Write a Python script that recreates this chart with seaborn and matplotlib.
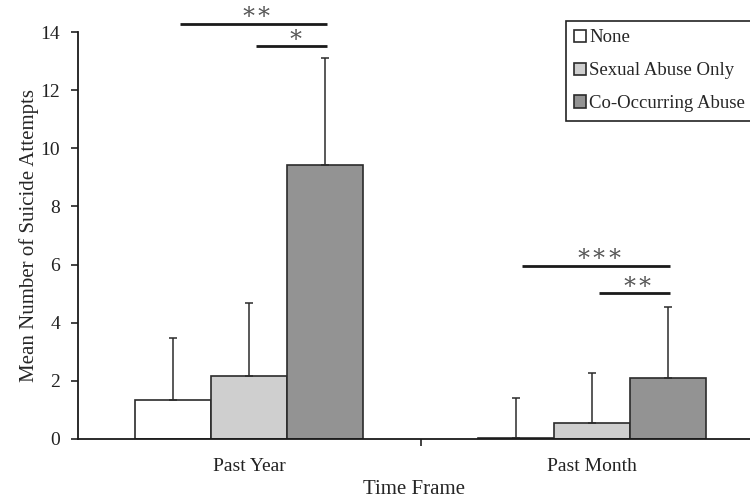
import numpy as np
import matplotlib
matplotlib.use("Agg")
import matplotlib.pyplot as plt
import pandas as pd
import seaborn as sns

# Values
time_frames = ['Past Year', 'Past Month']
groups = ['None', 'Sexual Abuse Only', 'Co-Occurring Abuse']
means_year = [1.35, 2.18, 9.44]
means_month = [0.03, 0.56, 2.11]
upper_year = [3.46, 4.69, 13.12]
upper_month = [1.40, 2.26, 4.53]
bar_colors = ['#ffffff', '#cfcfcf', '#939393']

# significance brackets: (time frame index, from group, to group, y level, label)
sig_pairs = [
    (0, 0, 2, 14.27, '\u2217\u2217'),
    (0, 1, 2, 13.51, '\u2217'),
    (1, 0, 2, 5.96, '\u2217\u2217\u2217'),
    (1, 1, 2, 5.01, '\u2217\u2217'),
]

df = pd.DataFrame({
    'Time Frame': np.repeat(time_frames, len(groups)),
    'Group': groups * len(time_frames),
    'Mean': means_year + means_month,
    'Upper': upper_year + upper_month,
})

sns.set_style('white')
plt.rcParams['font.family'] = ['Liberation Serif', 'DejaVu Serif']

fig = plt.figure(figsize=(7.5, 5.04), dpi=100)
ax = fig.add_axes([0.104, 0.129, 0.896, 0.8075])

total_width = 0.667
sns.barplot(data=df, x='Time Frame', y='Mean', hue='Group', palette=bar_colors,
            width=total_width, gap=0, edgecolor='#2b2b2b', linewidth=1.2,
            errorbar=None, ax=ax, legend=True)

# one-sided error bars
bw = total_width / len(groups)
offsets = (np.arange(len(groups)) - 1) * bw
xs = np.array([i + o for i in range(len(time_frames)) for o in offsets])
ax.errorbar(xs, df['Mean'], yerr=[np.zeros(len(df)), df['Upper'] - df['Mean']],
            fmt='none', ecolor='#2b2b2b', elinewidth=1.1, capsize=3, capthick=1.1)

# significance lines
for tf, g1, g2, yv, lab in sig_pairs:
    x1 = tf + offsets[g1] + 0.02
    x2 = tf + offsets[g2] + 0.005
    ax.plot([x1, x2], [yv, yv], color='#1a1a1a', lw=2, clip_on=False,
            solid_capstyle='butt')
    ax.text((x1 + x2) / 2 + 0.01, yv + 0.02, lab, ha='center', va='bottom',
            fontsize=17, color='#555555', clip_on=False)

ax.set_ylim(0, 14)
ax.set_xlim(-0.5, 1.462)
ax.set_yticks(range(0, 15, 2))
ax.set_xlabel('Time Frame', fontsize=15, labelpad=3)
ax.set_ylabel('Mean Number of Suicide Attempts', fontsize=15, labelpad=1)
ax.tick_params(axis='y', labelsize=14, left=True, length=5, width=1.2, pad=8,
               colors='#222222')
ax.tick_params(axis='x', which='major', labelsize=14, length=0, pad=14, colors='#222222')
ax.set_xticks([0.5], minor=True)
ax.tick_params(axis='x', which='minor', bottom=True, length=5, width=1.2, color='#222222')
for s in ['top', 'right']:
    ax.spines[s].set_visible(False)
for s in ['left', 'bottom']:
    ax.spines[s].set_color('#1a1a1a')
    ax.spines[s].set_linewidth(1.3)

leg = ax.legend(loc='upper left', bbox_to_anchor=(0.726, 1.027), fontsize=13.5,
                frameon=True, fancybox=False, edgecolor='#222222', framealpha=1,
                handlelength=0.65, handleheight=0.65, handletextpad=0.15,
                labelspacing=0.85, borderpad=0.45, borderaxespad=0)
leg.get_frame().set_linewidth(1.2)

fig.savefig('out.png', dpi=100)
